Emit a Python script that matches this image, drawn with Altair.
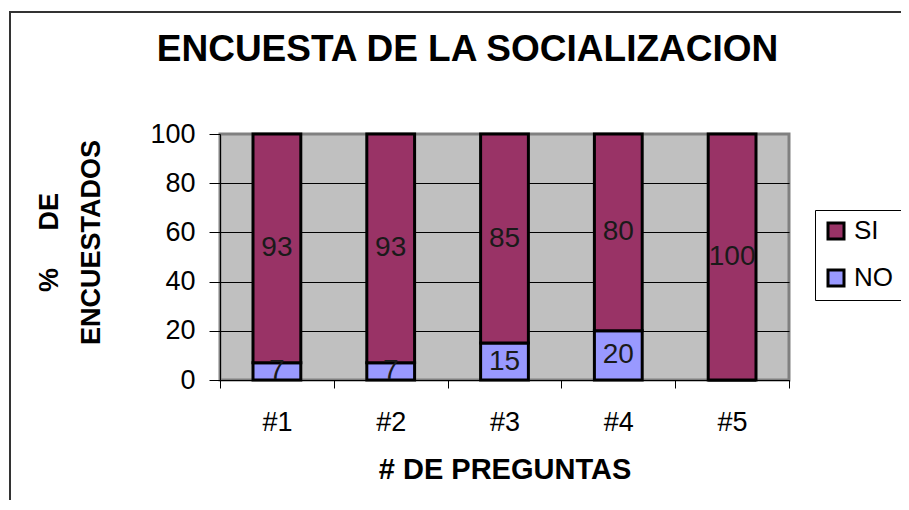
import altair as alt
import pandas as pd

preguntas = ["#1", "#2", "#3", "#4", "#5"]
si_vals = [93, 93, 85, 80, 100]
no_vals = [7, 7, 15, 20, 0]
series = ["SI", "NO"]
colors = ["#993366", "#9999FF"]

rows = []
for p, s, n in zip(preguntas, si_vals, no_vals):
    rows.append({"pregunta": p, "serie": "NO", "orden": 0, "valor": n})
    rows.append({"pregunta": p, "serie": "SI", "orden": 1, "valor": s})
df = pd.DataFrame(rows)

FONT = "Liberation Sans"

x_enc = alt.X(
    "pregunta:N",
    sort=preguntas,
    scale=alt.Scale(paddingInner=0, paddingOuter=0),
    axis=alt.Axis(
        title="# DE PREGUNTAS",
        titleFontSize=29,
        titleFontWeight="bold",
        titleColor="black",
        titleY=98,
        titleBaseline="alphabetic",
        labelAngle=0,
        labelFontSize=27,
        labelColor="black",
        labelPadding=21,
        tickBand="extent",
        tickSize=8,
        tickColor="black",
        domainColor="black",
        domainWidth=1,
        grid=False,
    ),
)

y_axis = alt.Axis(
    title=["%\u00a0\u00a0\u00a0\u00a0\u00a0DE", "ENCUESTADOS"],
    titleFontSize=27,
    titleFontWeight="bold",
    titleColor="black",
    titleAngle=-90,
    titleAlign="center",
    titleBaseline="alphabetic",
    titleLineHeight=42,
    titleX=-163,
    titleY=108,
    values=[0, 20, 40, 60, 80, 100],
    labelFontSize=27,
    labelColor="black",
    labelPadding=14,
    tickSize=11,
    tickColor="black",
    domainColor="black",
    domainWidth=1,
    grid=True,
    gridColor={"condition": {"test": "datum.value === 100", "value": "transparent"}, "value": "black"},
    gridWidth=1,
)

bars = alt.Chart(df).mark_bar(
    width=alt.RelativeBandSize(0.42), stroke="black", strokeWidth=3
).encode(
    x=x_enc,
    y=alt.Y("valor:Q", stack="zero", scale=alt.Scale(domain=[0, 100], nice=False), axis=y_axis),
    color=alt.Color(
        "serie:N",
        scale=alt.Scale(domain=series, range=colors),
        legend=alt.Legend(
            title=None,
            orient="none",
            legendX=595,
            legendY=76,
            labelFontSize=26,
            labelColor="black",
            labelOffset=5,
            symbolType="square",
            symbolSize=256,
            symbolStrokeColor="black",
            symbolStrokeWidth=3,
            symbolOpacity=1,
            rowPadding=19,
            padding=8,
            strokeColor="black",
            fillColor="white",
        ),
    ),
    order=alt.Order("orden:Q"),
)

labels = alt.Chart(df).transform_stack(
    stack="valor", groupby=["pregunta"], sort=[alt.SortField("orden")], as_=["y0", "y1"]
).transform_calculate(
    mid="(datum.y0 + datum.y1) / 2"
).transform_filter(
    "datum.valor > 0"
).mark_text(fontSize=28, color="#1a1a1a", baseline="middle", align="center").encode(
    x=alt.X("pregunta:N", sort=preguntas),
    y=alt.Y("mid:Q"),
    text=alt.Text("valor:Q"),
)

frame_data = alt.Data(values=[{"k": 1}])
frame_left = alt.Chart(frame_data).mark_rule(color="#333333", strokeWidth=2).encode(
    x=alt.value(-210), y=alt.value(-122), y2=alt.value(420)
)
frame_top = alt.Chart(frame_data).mark_rule(color="#333333", strokeWidth=2).encode(
    x=alt.value(-211), x2=alt.value(700), y=alt.value(-122)
)

chart = alt.layer(frame_left, frame_top, bars, labels).properties(
    width=569,
    height=246,
    autosize=alt.AutoSizeParams(type="none"),
    padding={"left": 212, "top": 126, "right": 112, "bottom": 120},
    title=alt.TitleParams(
        "ENCUESTA DE LA SOCIALIZACION",
        fontSize=37,
        fontWeight="bold",
        color="black",
        anchor="middle",
        frame="group",
        dx=-37,
        dy=87,
        baseline="alphabetic",
        offset=0,
    ),
).configure(
    font=FONT,
    background="white",
).configure_view(
    fill="#C0C0C0",
    stroke="#808080",
    strokeWidth=3,
)

chart.save("out.html", embed_options={"renderer": "svg", "actions": False})
